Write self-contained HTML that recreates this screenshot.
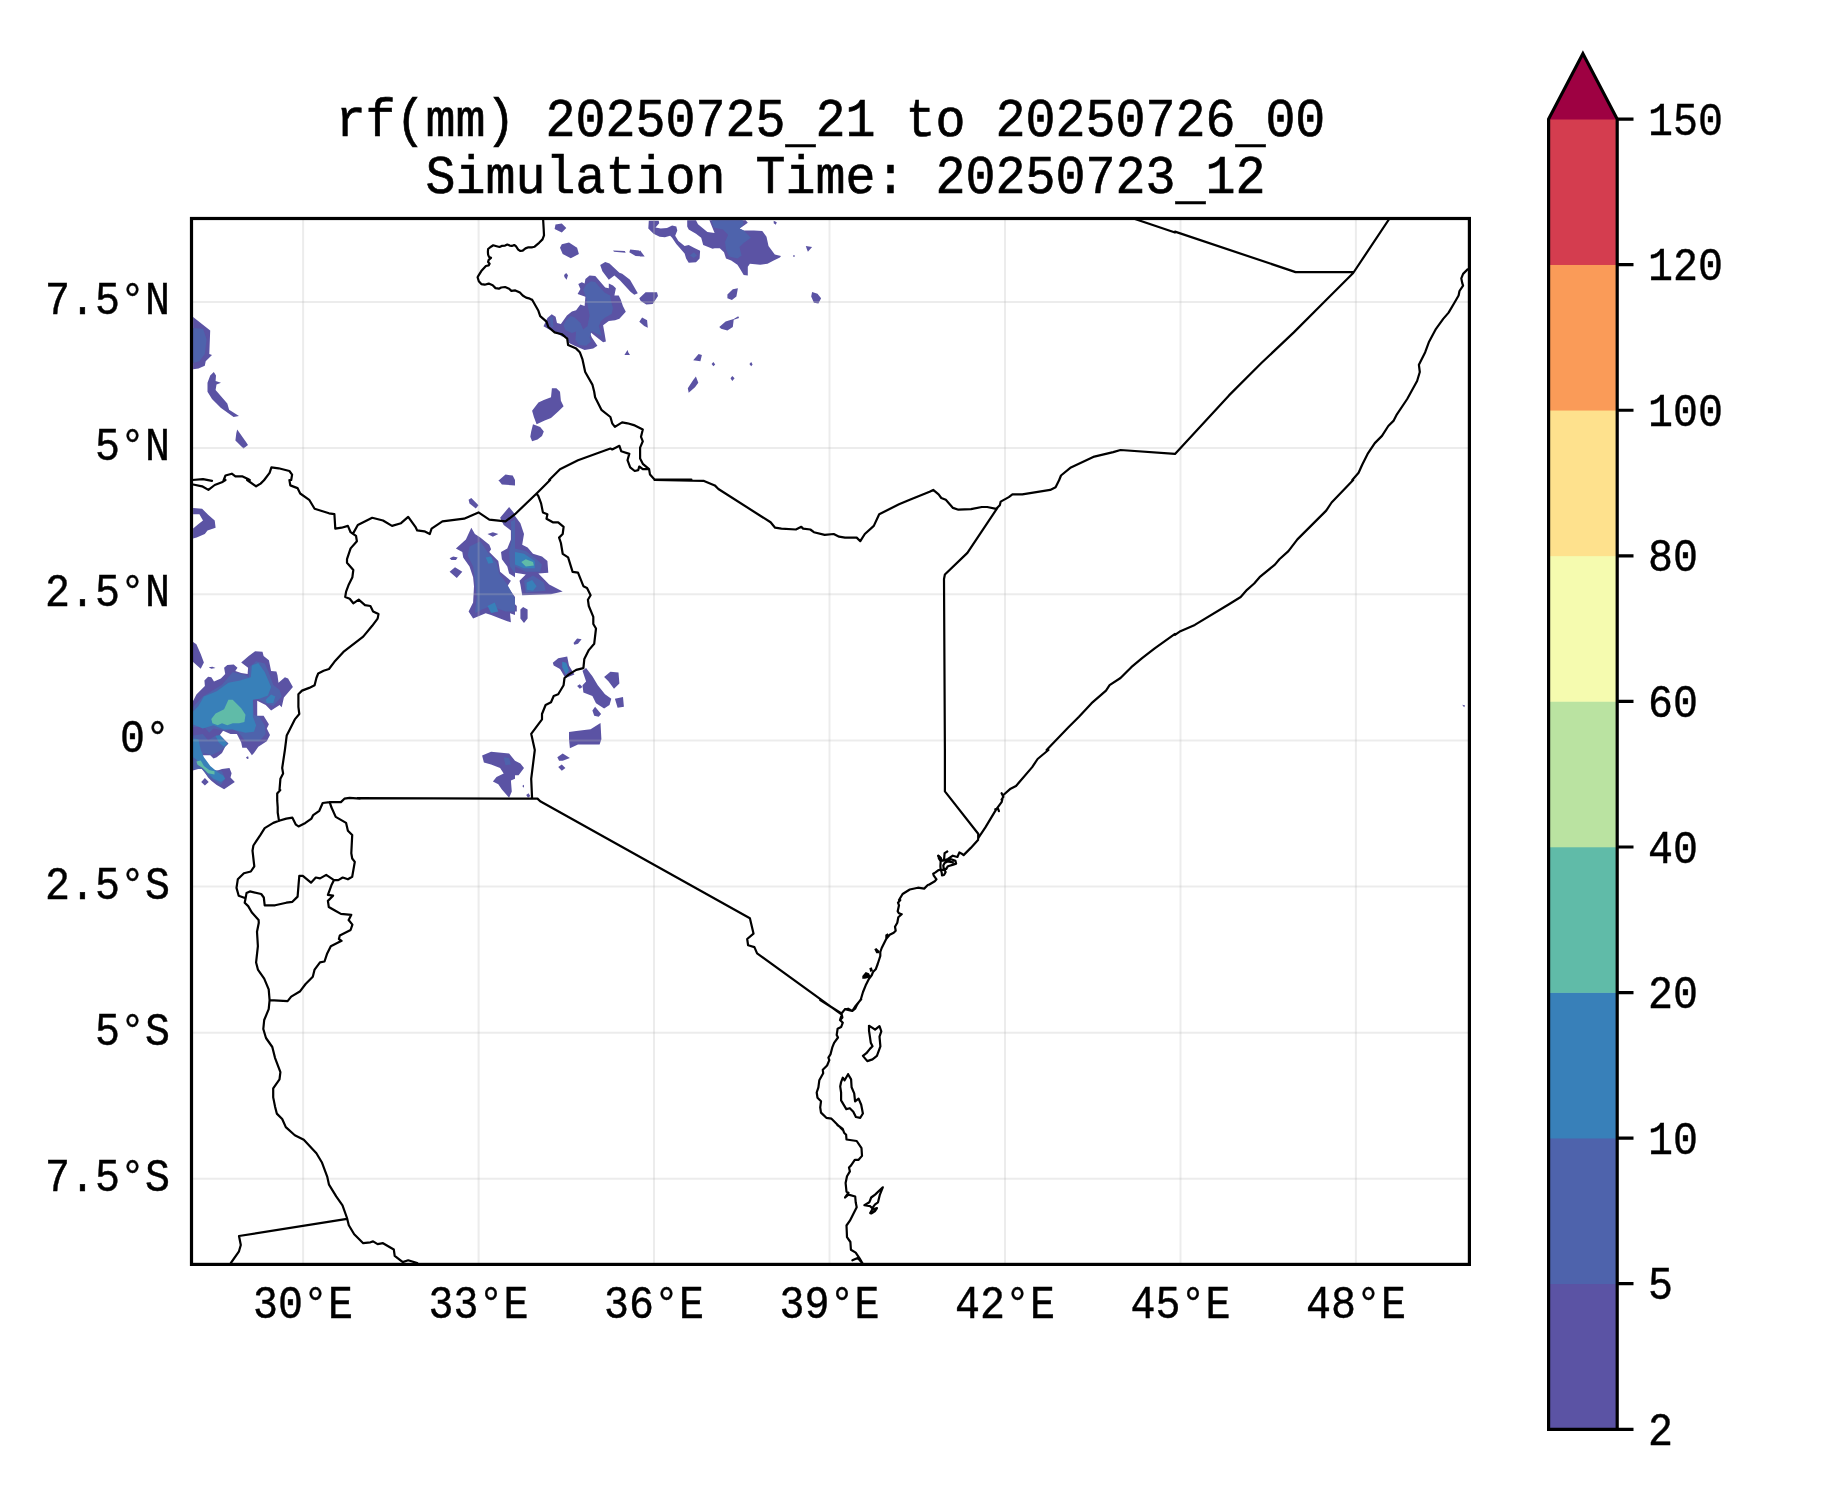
<!DOCTYPE html><html><head><meta charset="utf-8"><style>
html,body{margin:0;padding:0;background:#fff;overflow:hidden;}
svg{display:block;will-change:transform;}
text{font-family:"Liberation Mono",monospace;fill:#000;}
</style></head><body>
<svg width="1833" height="1500" viewBox="0 0 1833 1500">
<rect x="0" y="0" width="1833" height="1500" fill="#fff"/>

<clipPath id="mc"><rect x="192" y="219" width="1276" height="1044"/></clipPath><g clip-path="url(#mc)">
<path d="M193.1 317.1L210.2 330.6L209.3 354.0L212.0 354.9L205.7 361.2L204.8 365.7L198.5 368.4L193.1 369.3ZM213.8 372.0L216.0 375.6L215.6 381.0L221.0 382.8L216.5 384.6L215.6 390.0L227.3 403.5L229.1 409.8L239.0 416.1L233.6 417.0L221.0 408.0L212.0 399.0L207.5 391.8L207.5 382.8L210.2 375.6ZM237.2 429.6L246.2 442.2L248.0 444.9L243.5 448.5L235.4 440.4L236.3 433.2ZM499.2 480.0L505.5 474.6L512.7 475.5L515.0 480.0ZM555.5 224.4L561.8 223.5L566.3 228.0L561.8 232.5L554.6 228.9ZM561.8 244.2L569.0 242.4L577.1 247.8L578.9 254.1L570.8 258.2L562.7 254.1L560.0 247.8ZM613.1 250.5L624.8 251.0L625.7 252.8L614.0 251.8ZM630.2 249.6L639.2 250.5L644.6 256.4L635.6 255.9L629.3 252.3ZM624.5 354.9L627.5 350.1L629.3 354.9ZM532.1 410.7L538.4 402.6L543.8 399.9L551.0 397.2L551.9 388.2L556.4 388.2L560.0 391.8L560.9 400.8L563.6 406.2L558.2 411.6L551.0 417.9L544.7 420.6L536.6 424.2L533.9 417.0ZM531.2 431.4L533.0 424.2L540.2 426.9L543.8 431.4L542.0 435.9L537.5 439.5L532.1 441.3L530.3 436.8ZM727.4 294.6L732.8 289.2L737.9 288.3L736.4 296.4L731.9 300.0L727.4 298.2ZM812.1 291.9L817.5 293.7L821.1 298.2L818.4 303.6L813.9 302.7L811.2 296.4ZM719.3 327.0L725.6 321.6L733.7 318.9L738.2 316.2L739.1 318.0L733.7 319.8L732.8 327.0L727.4 330.6L721.1 328.8ZM693.2 360.3L698.6 354.0L701.9 354.9L700.4 361.2ZM711.6 363.9L713.4 362.1L715.2 364.5L713.4 366.3ZM749.4 363.9L751.2 362.1L752.6 364.5L751.2 366.3ZM730.5 378.3L732.3 376.0L734.6 378.3L732.3 381.0ZM687.8 388.2L693.2 380.1L695.9 376.5L698.3 382.8L695.0 387.3L688.7 392.7ZM193.1 507.9L202.1 508.8L208.4 515.1L214.7 520.5L215.6 527.7L207.5 530.4L204.8 534.0L196.7 537.6L193.1 538.5L193.1 528.6L198.5 524.1L203.0 520.5L199.4 514.2L193.1 514.2ZM455.9 548.4L465.9 539.4L471.3 527.7L474.9 534.0L480.3 537.6L489.3 544.8L491.1 549.3L489.3 552.0L498.3 561.0L500.1 571.8L510.9 580.8L507.3 586.2L515.0 597.0L515.0 615.0L510.0 613.2L510.9 622.2L507.3 621.3L500.1 618.6L491.1 615.0L485.7 613.2L473.1 618.6L468.6 611.4L473.1 602.4L474.0 586.2L473.1 577.2L469.5 566.4L463.2 557.4L462.3 552.0ZM500.1 517.8L509.1 507.0L515.0 514.2L515.0 577.2L509.1 573.6L507.3 566.4L501.9 559.2L501.0 552.0L507.3 548.4L510.9 539.4L510.9 530.4L503.7 525.0ZM468.6 499.8L471.3 498.0L478.5 505.2L475.8 508.4L469.5 503.4ZM487.5 534.0L492.9 532.2L498.3 534.0L492.9 536.7ZM449.6 558.3L453.2 556.5L457.7 557.4L455.9 560.1L451.4 560.1ZM449.6 571.8L455.0 567.3L462.3 571.8L456.8 578.1ZM498.3 480.0L515.0 480.0L515.0 485.4L501.9 484.5ZM193.2 700.8L196.4 694.4L204.9 685.9L204.4 680.5L208.1 676.8L211.3 677.3L214.0 681.6L220.9 678.4L225.2 674.1L224.1 667.7L227.3 665.1L233.7 664.5L237.5 667.7L235.3 670.9L241.2 673.1L247.6 674.1L248.1 667.7L241.2 662.4L248.7 656.0L255.1 651.2L262.5 651.7L263.6 656.0L268.9 660.3L271.1 670.9L276.4 671.5L277.5 675.2L278.5 682.7L284.9 677.3L288.1 678.4L292.9 686.9L283.9 697.6L281.7 707.2L279.6 705.1L271.1 710.4L265.7 705.1L257.2 700.8L257.2 715.7L263.6 715.7L268.9 724.3L266.8 728.5L270.0 734.9L266.8 741.3L258.3 746.7L254.0 753.1L251.9 755.2L249.7 752.0L246.5 747.7L242.3 747.7L241.2 742.4L236.9 733.9L230.5 733.9L223.1 730.7L219.9 734.9L228.4 743.5L225.2 746.7L222.0 753.1L216.7 757.3L213.5 758.4L210.3 755.2L202.8 755.2L200.7 757.3L207.1 764.8L215.6 771.2L222.0 769.1L229.5 768.0L231.6 773.3L230.5 777.6L234.8 781.9L224.1 789.3L216.7 785.1L211.3 780.8L208.1 777.6L201.7 768.0L190.0 771.2L190.0 700.8ZM201.2 781.9L204.9 778.1L208.7 781.9L204.9 785.6ZM190.0 640.0L196.4 644.3L200.7 653.9L203.9 662.4L200.7 668.8L190.0 659.2ZM208.7 667.2L212.4 666.7L215.6 667.9L211.3 668.8ZM246.0 757.3L248.1 756.3L248.7 758.4L247.1 758.9ZM482.1 755.4L491.1 751.8L509.1 753.6L515.0 760.8L515.0 778.8L510.9 780.6L511.8 791.4L509.1 797.7L501.9 789.6L498.3 784.2L492.9 781.5L496.5 777.0L503.7 773.4L500.1 768.0L491.1 764.4L483.9 762.6ZM687.2 220.2L696.0 220.2L698.0 224.3L707.4 232.1L714.6 233.1L709.4 220.2L745.7 220.2L747.8 222.8L742.6 226.4L739.5 228.5L743.7 230.5L754.0 230.5L762.3 231.1L766.5 236.8L768.5 246.1L774.8 254.4L781.0 255.9L779.9 257.5L773.7 260.6L767.5 263.7L760.2 264.8L749.9 263.7L747.8 266.8L747.8 275.6L743.7 275.1L739.5 267.9L737.4 264.8L731.2 260.6L726.0 258.5L724.0 252.3L719.8 248.2L714.6 248.2L712.6 248.7L703.2 245.1L701.2 237.8L696.0 233.7L688.7 229.5L687.2 226.4ZM648.8 220.7L658.7 220.7L659.2 223.3L655.5 227.4L660.7 228.5L667.0 228.0L672.1 225.4L676.3 226.4L677.3 230.5L675.2 235.7L678.4 240.9L684.6 246.1L688.7 245.1L694.9 248.2L700.1 250.8L699.6 258.5L696.0 262.2L688.7 262.7L686.1 258.5L684.6 253.4L676.3 244.0L672.1 237.8L670.1 235.7L664.9 237.3L659.7 236.8L653.5 233.7L648.3 228.5ZM773.7 220.7L776.8 222.3L775.8 224.8L773.7 223.3ZM805.8 246.1L812.1 247.1L807.9 251.8L806.9 249.2ZM793.2 255.2L794.7 255.2L794.7 256.7L793.2 256.7ZM640.0 250.2L644.7 256.5L640.0 256.5ZM543.5 326.3L547.4 318.1L551.7 314.2L555.6 316.7L557.0 323.1L560.9 324.1L566.9 315.6L571.9 311.4L576.1 310.3L580.4 304.6L584.6 306.1L585.4 296.8L577.6 294.0L580.4 289.0L578.3 284.1L581.8 282.3L584.6 283.4L585.4 279.1L589.6 275.6L595.3 275.9L605.2 287.6L608.8 288.3L608.8 283.4L613.0 285.5L615.9 288.3L615.1 291.9L614.4 295.4L618.7 295.4L620.8 299.7L622.9 306.1L625.8 311.7L619.4 318.8L615.1 320.2L608.8 321.0L603.1 325.2L604.5 333.0L605.9 341.5L603.1 342.2L593.9 335.1L589.6 331.6L591.7 337.3L597.4 345.8L593.2 348.6L584.6 350.0L574.7 345.8L569.0 342.9L566.2 336.6L562.0 336.6L559.8 335.1L553.4 331.6L549.2 329.5ZM600.2 264.9L605.2 262.1L609.5 263.5L619.4 272.7L622.2 273.8L630.0 279.8L632.9 284.8L637.8 293.3L634.3 294.7L630.7 291.9L620.1 280.5L614.4 275.6L608.8 279.8L602.4 271.3ZM639.3 298.3L645.6 292.2L657.0 292.2L658.0 296.1L652.7 303.9L646.3 304.6L640.7 301.1ZM639.3 321.7L642.1 317.4L647.1 320.2L647.8 327.7L644.2 325.9ZM564.1 274.9L566.2 273.1L568.0 275.2L566.6 279.8L564.4 277.0ZM624.4 355.0L627.2 350.4L630.0 355.0ZM515.0 516.0L520.4 523.2L524.0 534.0L522.2 544.8L527.6 547.5L533.0 553.8L542.0 556.5L547.4 561.0L548.3 572.7L538.4 573.6L549.2 584.4L562.7 591.6L551.0 594.3L522.2 595.2L520.4 584.4L519.5 580.8L525.8 574.5L515.0 572.7ZM515.0 604.2L516.8 606.0L516.8 611.4L515.0 611.4ZM520.4 609.6L523.1 606.9L527.6 609.6L527.6 618.6L524.0 623.1L520.4 618.6ZM573.5 642.9L577.1 638.4L581.6 639.3L578.0 643.8L574.4 644.7ZM552.8 662.7L558.2 658.2L567.2 656.4L569.0 665.4L574.4 674.4L565.4 678.0L560.0 669.0L553.7 665.4ZM582.5 670.8L586.1 668.1L592.4 676.2L597.8 685.2L605.0 694.2L611.3 698.7L609.5 705.0L604.1 708.6L596.0 703.2L592.4 696.0L583.4 692.4L582.5 685.2L586.1 681.6ZM577.1 686.1L579.8 684.3L582.5 687.0L579.8 688.8ZM604.1 677.1L610.4 671.7L618.5 672.6L619.4 683.4L614.0 688.8L608.6 681.6ZM614.9 698.7L623.0 696.9L623.9 706.8L617.6 707.7ZM592.4 710.4L595.1 706.8L601.1 714.0L598.7 716.7L594.2 715.8ZM569.0 732.0L576.2 731.1L590.6 729.3L600.5 723.0L601.4 739.2L599.6 744.6L578.0 744.6L569.9 748.2L569.0 739.2ZM515.0 760.8L520.4 763.5L524.0 768.0L518.6 775.2L515.0 775.2ZM557.3 757.2L562.7 753.6L569.9 758.1L562.7 760.8L559.1 760.8ZM558.2 767.1L561.8 764.4L565.4 768.0L561.8 770.7ZM522.2 786.0L524.0 784.7L524.0 787.8ZM526.2 795.0L528.5 793.2L530.3 795.9L528.0 797.7ZM1462.2 704.7L1465.2 705.4L1464.1 707.2Z" fill="#5b53a4" stroke="none"/>
<path d="M193.1 327.9L203.0 328.8L206.6 339.6L204.8 354.0L199.4 361.2L193.1 363.0ZM469.5 546.6L480.3 541.2L487.5 552.0L496.5 562.8L499.2 573.6L507.3 584.4L515.0 598.8L515.0 611.4L505.5 611.4L491.1 606.0L482.1 609.6L474.9 613.2L476.7 597.0L474.9 580.8L473.1 566.4L467.7 555.6ZM510.9 521.4L515.0 519.6L515.0 573.6L510.0 566.4L509.1 552.0L511.8 539.4ZM190.0 710.4L202.8 696.5L222.0 684.8L232.7 672.0L245.5 675.2L248.7 677.3L249.7 666.7L256.1 661.3L264.7 663.5L267.9 669.9L273.2 684.8L279.6 690.1L281.7 696.5L273.2 706.1L264.7 702.9L256.1 697.6L252.9 699.7L254.0 714.7L259.3 716.8L264.7 725.3L265.7 733.9L259.3 741.3L245.5 741.3L238.0 731.7L230.5 728.5L225.2 730.7L213.5 728.5L209.2 732.8L203.9 726.4L190.0 727.5ZM190.0 736.0L202.8 733.9L208.1 740.3L216.7 734.9L228.4 743.5L224.1 747.7L219.9 750.9L211.3 755.2L203.9 753.1L200.7 757.3L208.1 765.9L214.5 770.1L222.0 771.2L225.2 778.7L220.9 785.1L214.5 780.8L209.2 777.6L201.7 769.1L190.0 769.1ZM503.7 757.2L509.1 758.1L510.9 764.4L505.5 765.3ZM711.5 220.2L742.6 220.2L743.7 224.3L739.5 228.5L743.7 230.5L750.9 237.8L743.7 243.0L739.5 247.1L741.6 255.4L737.4 258.5L729.1 256.5L726.0 249.2L725.0 242.0L728.1 234.7L722.9 229.5L713.6 227.4ZM689.8 255.4L693.9 252.3L697.0 255.4L693.9 258.0ZM563.4 325.2L566.2 320.2L570.5 316.0L574.7 317.4L580.4 323.1L583.2 329.5L587.5 325.9L589.6 315.3L586.1 297.6L583.2 289.8L586.1 284.8L591.0 281.2L595.3 282.0L598.8 286.2L604.5 292.6L610.2 295.4L610.9 300.4L613.0 308.2L611.6 313.9L605.2 317.4L601.0 321.0L598.8 325.9L601.7 335.9L596.7 333.7L591.7 330.9L589.6 337.3L591.0 341.5L586.1 345.8L579.0 345.1L575.4 340.1L576.1 331.6L571.9 333.0L565.5 330.2ZM549.9 317.4L552.7 316.7L553.4 327.3L550.6 326.6ZM515.0 548.4L525.8 551.1L536.6 559.2L542.0 564.6L540.2 571.8L525.8 571.8L515.0 566.4ZM524.0 580.8L533.0 575.4L543.8 582.6L545.6 590.7L525.8 592.5Z" fill="#4e63ac" stroke="none"/>
<path d="M485.7 557.4L491.1 556.5L493.2 562.8L488.4 563.7ZM487.5 606.0L494.7 602.4L498.3 611.4L491.1 612.9ZM190.0 714.7L198.5 706.1L203.9 696.5L216.7 691.2L228.4 682.7L240.1 680.5L250.8 677.3L251.9 665.6L258.3 662.9L264.7 672.0L271.1 686.9L267.9 695.5L259.3 698.7L252.9 699.7L252.9 716.8L256.1 725.3L254.0 731.7L245.5 732.8L232.7 729.6L224.1 729.6L213.5 725.3L202.8 728.5L190.0 723.2ZM190.0 738.1L198.5 739.2L200.7 749.9L203.9 757.3L210.3 765.9L217.7 772.3L223.1 775.5L225.2 778.7L220.9 781.9L213.5 778.7L207.1 772.3L200.7 765.9L196.4 759.5L190.0 755.2ZM215.6 736.0L219.9 734.9L227.3 743.5L224.1 746.7L218.8 742.4ZM265.7 699.7L271.1 694.4L275.3 696.5L273.2 702.9L266.8 702.9ZM515.0 552.0L524.0 553.8L534.8 561.0L534.8 568.2L524.0 568.2L515.0 564.6ZM526.7 582.6L532.1 579.9L536.6 586.2L533.0 590.7L526.7 589.8ZM562.2 661.8L566.3 662.7L569.0 670.8L565.8 674.4L562.2 667.2Z" fill="#3880b9" stroke="none"/>
<path d="M211.3 718.9L215.6 713.6L224.1 709.3L228.4 699.7L232.7 699.7L241.2 708.3L245.5 714.7L244.4 722.1L239.1 723.2L232.7 723.2L227.3 725.3L222.0 723.2L217.7 725.3L212.4 723.2ZM196.4 761.6L200.7 760.5L203.9 765.9L209.2 770.1L214.5 771.2L214.5 774.4L208.1 773.3L202.8 768.0L197.5 764.8ZM521.3 561.9L525.8 559.2L533.0 561.9L533.9 565.5L525.8 566.4Z" fill="#60bba8" stroke="none"/>
<path d="M937.4 855.4L938.7 854.4L941.4 857.0L942.7 859.6L942.7 861.3L939.4 861.3L937.8 858.7ZM885.3 934.7L887.7 933.3L889.0 935.3L887.0 938.7L885.3 938.0ZM874.3 949.3L876.3 948.0L879.7 951.3L879.0 953.3L876.3 953.3ZM862.3 976.0L865.7 972.0L869.0 973.3L871.0 977.3L865.0 978.7L862.3 978.7ZM869.3 968.3L871.7 967.3L873.0 970.7L870.3 972.0Z" fill="#000" stroke="none"/>
<g stroke="#b8b8b8" stroke-opacity="0.27" stroke-width="2" fill="none"><path d="M303.1 220V1263"/><path d="M478.6 220V1263"/><path d="M654.0 220V1263"/><path d="M829.5 220V1263"/><path d="M1005.0 220V1263"/><path d="M1180.5 220V1263"/><path d="M1355.9 220V1263"/><path d="M193 302.0H1468"/><path d="M193 448.1H1468"/><path d="M193 594.3H1468"/><path d="M193 740.4H1468"/><path d="M193 886.5H1468"/><path d="M193 1032.7H1468"/><path d="M193 1178.8H1468"/></g>
<path d="M192.2 480.0L203.0 479.1L212.0 480.9M223.7 480.0L225.5 475.5L231.8 473.7L235.4 476.4L242.6 476.4L248.0 479.1L249.8 480.0M264.2 480.0L269.6 472.8L271.4 467.4L278.6 468.3L289.4 471.0L292.1 474.6L291.2 480.0M532.3 300.0L538.4 310.8L540.2 316.2L546.5 321.6L548.3 327.0L554.6 332.4L561.8 334.2L567.2 338.7L568.1 345.0L576.2 348.6L579.8 352.2L582.5 359.4L585.2 372.0L592.4 384.6L594.2 391.8L595.1 397.2L601.4 409.8L610.4 417.0L612.2 423.3L614.9 426.9L622.1 422.4L627.5 423.3L633.8 425.1L642.8 429.6L641.0 436.8L642.8 441.3L640.1 447.6L640.1 458.4L642.8 463.8L649.1 469.2L650.0 474.6L654.5 479.5L691.4 479.5M549.2 480.0L560.0 469.2L578.0 460.2L610.4 448.5L612.2 449.4L619.4 445.8L621.2 451.2L629.3 453.9L627.5 460.2L630.2 467.4L634.7 471.0L638.3 470.1L639.2 466.5L642.8 469.2L648.2 469.2M193.1 484.5L202.1 486.3L208.4 489.9L214.7 485.0L221.9 482.2L225.5 480.0M247.1 480.0L256.1 486.3L260.6 483.6L264.2 480.0M289.4 480.0L290.3 485.4L297.5 488.1L300.2 493.5L309.2 499.8L314.6 508.8L329.0 513.3L334.4 514.2L335.3 528.6L341.6 527.7L347.9 525.9L350.6 532.2L353.3 534.0L356.0 535.8L356.9 541.2L350.6 548.4L347.0 559.2L347.0 562.8L353.3 570.0L352.4 577.2L348.8 584.4L346.1 591.6L345.2 597.0L349.7 598.8L353.3 603.3L358.7 599.7L365.0 605.1L370.4 606.0L373.1 611.4L378.5 614.1L377.6 618.6L372.2 625.8L363.2 636.6L343.4 651.9L334.4 661.8L329.0 669.0L323.6 670.8L318.2 673.5L316.4 678.0L314.6 685.2L309.2 687.9L302.0 690.6L298.4 694.2L298.4 706.8L299.3 714.0L294.8 719.4L289.4 730.2L286.7 735.6L284.9 750.0M353.3 533.1L357.8 525.0L372.2 517.8L383.0 520.5L392.0 525.9L401.0 523.2L408.2 516.9L415.4 526.8L417.2 530.4L424.4 531.3L429.8 534.0L431.6 528.6L442.4 521.4L464.1 518.7L478.5 512.4L489.3 519.6L505.5 521.4L515.0 514.2M280.3 790.0L277.2 793.5L277.2 800.4L277.7 807.3L277.7 812.5L279.0 820.8M279.0 820.8L286.3 818.6L292.4 817.7L295.9 824.7L298.5 826.4L305.4 822.9L311.5 818.6L313.2 815.1L319.3 810.8L322.7 803.0L329.7 802.1M329.7 802.1L340.9 802.1L344.4 798.7L349.6 797.8L360.0 798.7M329.7 802.1L331.4 807.3L335.7 816.9L346.1 822.9L347.9 830.7L352.2 835.1L351.3 853.3L352.2 858.5L354.8 861.9L352.2 876.7L347.9 879.3L342.7 877.5L338.3 880.1L334.0 880.1L326.2 874.9L320.1 878.4L315.8 877.5L311.0 882.7L302.8 875.8L299.3 875.8M334.0 880.1L331.4 885.3L327.9 894.9L333.1 895.7L327.9 900.9L328.8 907.0L334.9 910.5L340.9 913.9L351.3 914.8L348.7 920.0M299.3 875.8L298.5 885.3L297.6 896.6L292.4 901.8L286.3 902.7L275.1 905.3L264.7 905.3L263.8 897.5L261.2 894.0L249.9 891.4L246.5 893.1L245.6 898.3L244.7 902.7L248.2 906.1L251.7 912.2L258.6 920.0M279.0 820.8L273.3 822.9L264.7 828.1L260.3 835.1L253.4 845.5L252.5 850.7L254.3 866.3L250.8 871.5L243.9 873.2L237.8 879.3L236.5 887.9L238.7 895.7L245.6 898.3M284.9 750.0L282.2 768.0L283.1 773.4L280.4 778.8L279.5 790.0M357.8 798.2L515.0 798.6M348.6 920.0L352.4 924.6L350.6 930.0L339.8 935.4L338.9 939.0L341.6 940.8L330.8 946.2L327.2 953.4L324.5 961.5L320.0 962.4L314.6 969.6L312.8 976.8L305.6 984.0L300.2 991.2L291.2 996.6L287.6 1001.1L269.6 1000.2M258.6 920.0L258.8 922.8L257.0 931.8L257.9 946.2L256.1 962.4L257.9 969.6L264.2 978.6L268.7 989.4L269.6 1000.2L268.7 1009.2L264.2 1020.0M264.2 1020.0L263.3 1029.0L266.0 1038.0L272.3 1047.0L275.0 1057.8L280.4 1072.2L279.5 1079.4L273.2 1088.4L273.2 1097.4L275.0 1106.4L276.8 1113.6L282.2 1119.0L285.8 1127.1L294.8 1135.2L303.8 1139.7L316.4 1153.2L321.8 1162.2L327.2 1176.6L329.0 1184.7L336.2 1196.4L342.5 1205.4L347.0 1218.0L348.8 1225.2L354.2 1234.2L363.2 1243.2L370.4 1242.3L373.1 1241.4L377.6 1244.1L383.0 1243.2L393.8 1249.5L394.7 1255.8L402.8 1262.1L408.2 1260.3L417.2 1263.0M347.0 1218.9L239.0 1236.0L240.8 1245.0L239.0 1251.3L230.9 1263.0M543.1 219.0L543.7 229.2L544.0 235.4L542.5 239.4L539.1 242.8L534.6 246.7L532.3 247.3L528.4 247.3L525.5 248.4L522.7 250.7L520.4 251.0L518.2 249.6L515.9 246.2L514.2 245.0L511.9 245.9L509.7 245.6L507.4 244.5L505.1 245.6L501.7 245.9L499.5 247.0L496.6 246.2L493.2 245.3L491.0 246.7L488.1 249.0L487.9 251.8L488.1 254.7L489.0 256.9L491.0 257.8L488.7 259.8L488.1 262.0L489.6 263.7L488.7 265.4L485.9 266.0L481.3 271.1L478.5 275.6L477.6 277.3L478.8 281.3L481.3 284.1L484.7 284.7L488.7 283.6L492.7 285.3L495.5 288.1L498.9 288.7L501.2 287.5L505.1 287.0L509.1 288.7L511.4 290.9L515.3 290.4L519.9 292.6L522.7 295.5L526.1 297.7L528.9 298.3L532.3 300.0M550.1 480.0L536.6 493.5L515.0 514.2M536.6 493.5L538.4 496.2L541.1 503.4L542.9 512.4L547.4 514.2L546.5 518.7L552.8 522.3L558.2 522.3L563.6 526.8L562.7 534.0L559.1 537.6L560.9 543.0L562.7 553.8L568.1 557.4L572.6 571.8L578.0 572.7L583.4 586.2L587.0 588.0L590.6 595.2L587.9 599.7L588.8 606.0L593.3 616.8L593.3 624.0L596.0 628.5L594.2 643.8L588.8 650.1L584.3 659.1L583.4 668.1L576.2 669.9L569.0 674.4L564.5 678.0L563.6 685.2L558.2 694.2L553.7 696.0L551.0 702.3L545.6 705.0L542.0 714.0L542.0 719.4L531.2 733.8L534.8 750.0M654.5 480.0L704.0 480.9L714.8 485.4L718.4 489.0L770.6 522.3L775.1 527.7L781.4 528.6L795.9 529.5L801.3 526.8L803.1 528.6L810.3 529.5L813.9 532.2L824.7 534.9L833.7 534.0L839.1 536.7L845.0 537.6M534.8 750.0L531.2 778.8L532.1 798.6M515.0 798.6L537.5 798.6L540.2 801.3L749.9 918.3L753.5 933.6L747.2 939.0L748.1 945.3L754.4 947.1L757.1 953.4L841.8 1014.6L840.0 1020.0M820.2 1000.0L841.5 1013.5M860.3 1000.0L856.8 1005.2L855.1 1008.7L852.4 1010.9L848.1 1008.7L844.6 1009.6L841.5 1013.5L842.4 1017.5L840.2 1020.1L842.8 1022.7L841.1 1027.1L837.6 1028.8L836.7 1034.9L838.0 1037.5L834.1 1042.8L832.4 1047.1L830.6 1054.1L828.4 1057.6L829.3 1060.2L827.1 1065.5L822.8 1069.8L823.2 1073.3L819.3 1080.3L818.4 1087.3L816.7 1092.5L817.5 1097.8L821.0 1101.3L820.2 1107.4L821.0 1112.6L826.3 1117.8L831.5 1118.7L842.8 1130.0M869.0 1025.8L872.5 1027.9L875.1 1029.7L879.5 1026.2L881.3 1031.4L879.5 1036.7L880.4 1046.3L876.9 1055.9L872.5 1059.4L867.3 1061.1L862.9 1055.9L866.4 1053.2L869.9 1048.9L872.5 1046.3L870.8 1042.8L869.9 1036.7L869.0 1030.6L869.0 1025.8M848.1 1074.2L851.1 1079.4L851.6 1087.3L854.2 1093.4L855.1 1101.3L858.6 1098.6L861.2 1104.7L862.9 1113.5L860.3 1117.8L855.9 1117.0L853.3 1111.7L849.8 1108.2L846.3 1109.1L841.1 1100.4L841.1 1092.5L840.2 1086.4L841.1 1082.1L842.8 1077.7L844.6 1080.3L848.1 1074.2M837.4 1125.0L842.7 1128.9L844.1 1132.7L846.1 1134.7L846.5 1139.5L856.7 1141.0L861.5 1148.2L862.0 1155.9L858.6 1159.8L854.8 1159.8L850.9 1165.6L849.0 1167.5L849.9 1171.4L847.0 1176.2L845.6 1183.0L846.5 1191.7L848.5 1192.7L845.1 1197.5L848.5 1194.6L855.2 1196.5L855.7 1202.3L856.7 1207.2L849.9 1220.7L846.5 1225.5L847.0 1237.1L850.4 1242.0L850.9 1249.7L855.7 1252.6L859.6 1258.4L862.5 1263.2M882.8 1187.3L879.9 1194.6L878.0 1202.3L875.1 1204.3L872.2 1208.1L870.2 1206.2L864.4 1205.2L869.3 1202.3L871.2 1197.5L875.1 1194.6L882.8 1187.3M870.2 1213.0L872.2 1209.6L877.0 1208.1L875.1 1211.0L871.2 1213.5L870.2 1213.0M852.4 1260.3L857.7 1257.9L861.5 1262.3M1134.9 219.0L1175.0 232.5M1059.2 480.0L1061.0 475.5L1070.9 467.4L1094.3 456.6L1113.2 452.1L1120.5 450.0L1175.0 453.9M1175.0 231.6L1295.6 272.1L1353.2 272.1M1389.2 219.0L1353.2 273.0L1324.4 301.8L1293.8 332.4L1261.4 363.0L1229.0 395.4L1175.0 453.9M1467.6 269.4L1463.1 273.9L1461.3 278.4L1462.2 282.9L1463.1 285.6L1459.5 291.0L1458.6 295.5L1455.0 301.8L1448.6 312.6L1443.2 318.9L1436.0 328.8L1428.8 342.3L1425.2 352.2L1418.9 364.8L1419.8 372.0L1417.1 381.0L1407.2 399.0L1396.4 415.2L1393.7 420.6L1388.3 426.0L1382.0 435.9L1374.8 443.1L1367.6 453.9L1362.2 464.7L1358.6 472.8L1352.3 480.0M845.0 537.6L856.7 537.6L860.3 541.2L864.8 534.0L873.8 525.9L879.2 514.2L899.0 504.3L909.8 499.8L929.6 491.7L933.2 489.9L938.6 494.4L941.3 498.0L945.8 499.8L953.0 507.9L958.4 509.7L971.0 509.2L981.8 507.0L987.2 507.0L996.2 508.8L999.8 505.2L1000.7 501.6L1008.8 497.1L1012.4 494.4L1022.3 494.4L1050.2 489.9L1055.6 487.2L1059.2 480.0M998.0 507.0L967.4 552.9L944.9 574.5L944.0 579.0L944.9 750.0M1175.0 633.9L1154.7 648.3L1142.1 658.2L1131.3 667.2L1120.5 678.0L1109.6 685.2L1106.0 690.6L1091.6 703.2L1079.0 716.7L1068.2 727.5L1046.6 750.0M944.9 750.0L944.9 791.4L978.2 833.7L978.2 839.1M1048.4 750.0L1037.6 759.0L1032.2 767.1L1016.0 786.0L1010.6 788.7L1003.4 795.0L1001.6 802.2L996.2 809.4L985.4 827.4L978.2 838.2M929.3 884.5L927.8 885.0L924.2 888.6L917.9 887.7L909.8 889.5L902.6 894.0L899.0 900.0M861.2 999.3L855.8 1005.6L852.2 1011.0L845.0 1009.2M1001.6 793.2L1003.4 796.8L1001.6 799.5M995.3 809.4L998.0 808.5L998.9 811.2M978.0 840.0L970.8 847.9L963.6 855.1L961.7 853.7L959.4 852.4L957.4 857.0L952.8 855.7L947.9 859.0L944.6 860.3L940.7 860.9L940.4 866.2L940.7 869.5L938.1 870.4L935.5 872.4L933.2 873.7L933.8 875.7L936.5 879.3L934.8 881.2L929.3 884.5M944.6 860.3L951.2 859.3L955.4 860.9L956.1 863.6L952.5 864.9L947.9 866.2L946.3 868.8L943.7 868.5L943.3 865.5L944.6 862.9L947.9 861.3L952.8 862.3M940.7 869.5L944.6 870.1L945.6 872.1L944.0 875.0L942.0 875.4L941.7 872.7L940.7 869.5M938.1 855.7L940.7 858.3L941.4 860.9M944.0 860.3L944.6 853.1L947.3 851.5M900.3 900.0L898.0 902.7L899.0 905.3L897.7 911.3L899.0 913.3L901.7 914.3L898.3 917.3L897.3 922.7L895.0 926.7L895.7 930.7L893.7 932.7L889.7 934.7L886.3 938.7L883.7 944.0L881.7 948.0L880.3 952.0L880.3 956.0L877.7 964.0L875.7 969.3L873.0 972.0L871.7 975.3L869.0 978.7L865.7 985.3L863.0 992.0L861.0 998.7M1353.2 480.0L1331.6 502.5L1326.2 510.6L1297.4 539.4L1288.4 551.1L1279.4 559.2L1274.9 564.6L1259.6 577.2L1254.2 583.5L1247.0 589.8L1240.7 597.0L1229.0 604.2L1194.8 624.9L1180.4 631.2L1175.0 634.8" stroke="#000" stroke-width="2.2" fill="none" stroke-linejoin="round" stroke-linecap="round"/>
</g>
<rect x="191.5" y="218.5" width="1277.9" height="1045.9" fill="none" stroke="#000" stroke-width="3.2"/>
<text transform="translate(830.5 136.0) scale(1 1.080)" font-size="50.00" text-anchor="middle" stroke="#000" stroke-width="0.60">rf(mm) 20250725<tspan dy="4.6">_</tspan><tspan dy="-4.6">21 to 20250726</tspan><tspan dy="4.6">_</tspan><tspan dy="-4.6">00</tspan></text>
<text transform="translate(845.5 192.6) scale(1 1.080)" font-size="50.00" text-anchor="middle" stroke="#000" stroke-width="0.60">Simulation Time: 20250723<tspan dy="4.6">_</tspan><tspan dy="-4.6">12</tspan></text>
<text transform="translate(170.0 314.0) scale(1 1.110)" font-size="41.67" text-anchor="end" stroke="#000" stroke-width="0.40">7.5°N</text>
<text transform="translate(170.0 460.1) scale(1 1.110)" font-size="41.67" text-anchor="end" stroke="#000" stroke-width="0.40">5°N</text>
<text transform="translate(170.0 606.3) scale(1 1.110)" font-size="41.67" text-anchor="end" stroke="#000" stroke-width="0.40">2.5°N</text>
<text transform="translate(170.0 752.4) scale(1 1.110)" font-size="41.67" text-anchor="end" stroke="#000" stroke-width="0.40">0°</text>
<text transform="translate(170.0 898.5) scale(1 1.110)" font-size="41.67" text-anchor="end" stroke="#000" stroke-width="0.40">2.5°S</text>
<text transform="translate(170.0 1044.7) scale(1 1.110)" font-size="41.67" text-anchor="end" stroke="#000" stroke-width="0.40">5°S</text>
<text transform="translate(170.0 1190.8) scale(1 1.110)" font-size="41.67" text-anchor="end" stroke="#000" stroke-width="0.40">7.5°S</text>
<text transform="translate(303.1 1318.3) scale(1 1.110)" font-size="41.67" text-anchor="middle" stroke="#000" stroke-width="0.40">30°E</text>
<text transform="translate(478.6 1318.3) scale(1 1.110)" font-size="41.67" text-anchor="middle" stroke="#000" stroke-width="0.40">33°E</text>
<text transform="translate(654.0 1318.3) scale(1 1.110)" font-size="41.67" text-anchor="middle" stroke="#000" stroke-width="0.40">36°E</text>
<text transform="translate(829.5 1318.3) scale(1 1.110)" font-size="41.67" text-anchor="middle" stroke="#000" stroke-width="0.40">39°E</text>
<text transform="translate(1005.0 1318.3) scale(1 1.110)" font-size="41.67" text-anchor="middle" stroke="#000" stroke-width="0.40">42°E</text>
<text transform="translate(1180.5 1318.3) scale(1 1.110)" font-size="41.67" text-anchor="middle" stroke="#000" stroke-width="0.40">45°E</text>
<text transform="translate(1355.9 1318.3) scale(1 1.110)" font-size="41.67" text-anchor="middle" stroke="#000" stroke-width="0.40">48°E</text>
<rect x="1548.6" y="1283.42" width="68.6" height="146.18" fill="#5b53a4"/>
<rect x="1548.6" y="1137.84" width="68.6" height="146.18" fill="#4e63ac"/>
<rect x="1548.6" y="992.27" width="68.6" height="146.18" fill="#3880b9"/>
<rect x="1548.6" y="846.69" width="68.6" height="146.18" fill="#60bba8"/>
<rect x="1548.6" y="701.11" width="68.6" height="146.18" fill="#bae3a1"/>
<rect x="1548.6" y="555.53" width="68.6" height="146.18" fill="#f5fbaf"/>
<rect x="1548.6" y="409.96" width="68.6" height="146.18" fill="#fee18d"/>
<rect x="1548.6" y="264.38" width="68.6" height="146.18" fill="#fa9b58"/>
<rect x="1548.6" y="118.80" width="68.6" height="146.18" fill="#d43d4f"/>
<path d="M1548.6 119.6L1582.9 53.6L1617.2 119.6Z" fill="#9e0142"/>
<path d="M1548.6 1429.3L1548.6 119.1L1582.9 53.6L1617.2 119.1L1617.2 1429.3Z" fill="none" stroke="#000" stroke-width="3.2" stroke-miterlimit="10"/>
<text transform="translate(1648.0 1444.8) scale(1 1.110)" font-size="41.67" text-anchor="start" stroke="#000" stroke-width="0.40">2</text>
<text transform="translate(1648.0 1299.2) scale(1 1.110)" font-size="41.67" text-anchor="start" stroke="#000" stroke-width="0.40">5</text>
<text transform="translate(1648.0 1153.6) scale(1 1.110)" font-size="41.67" text-anchor="start" stroke="#000" stroke-width="0.40">10</text>
<text transform="translate(1648.0 1008.1) scale(1 1.110)" font-size="41.67" text-anchor="start" stroke="#000" stroke-width="0.40">20</text>
<text transform="translate(1648.0 862.5) scale(1 1.110)" font-size="41.67" text-anchor="start" stroke="#000" stroke-width="0.40">40</text>
<text transform="translate(1648.0 716.9) scale(1 1.110)" font-size="41.67" text-anchor="start" stroke="#000" stroke-width="0.40">60</text>
<text transform="translate(1648.0 571.3) scale(1 1.110)" font-size="41.67" text-anchor="start" stroke="#000" stroke-width="0.40">80</text>
<text transform="translate(1648.0 425.8) scale(1 1.110)" font-size="41.67" text-anchor="start" stroke="#000" stroke-width="0.40">100</text>
<text transform="translate(1648.0 280.2) scale(1 1.110)" font-size="41.67" text-anchor="start" stroke="#000" stroke-width="0.40">120</text>
<text transform="translate(1648.0 134.6) scale(1 1.110)" font-size="41.67" text-anchor="start" stroke="#000" stroke-width="0.40">150</text>
<path d="M1617.2 1429.30H1633.5M1617.2 1283.72H1633.5M1617.2 1138.14H1633.5M1617.2 992.57H1633.5M1617.2 846.99H1633.5M1617.2 701.41H1633.5M1617.2 555.83H1633.5M1617.2 410.26H1633.5M1617.2 264.68H1633.5M1617.2 119.10H1633.5" stroke="#000" stroke-width="3.2"/>
</svg></body></html>
